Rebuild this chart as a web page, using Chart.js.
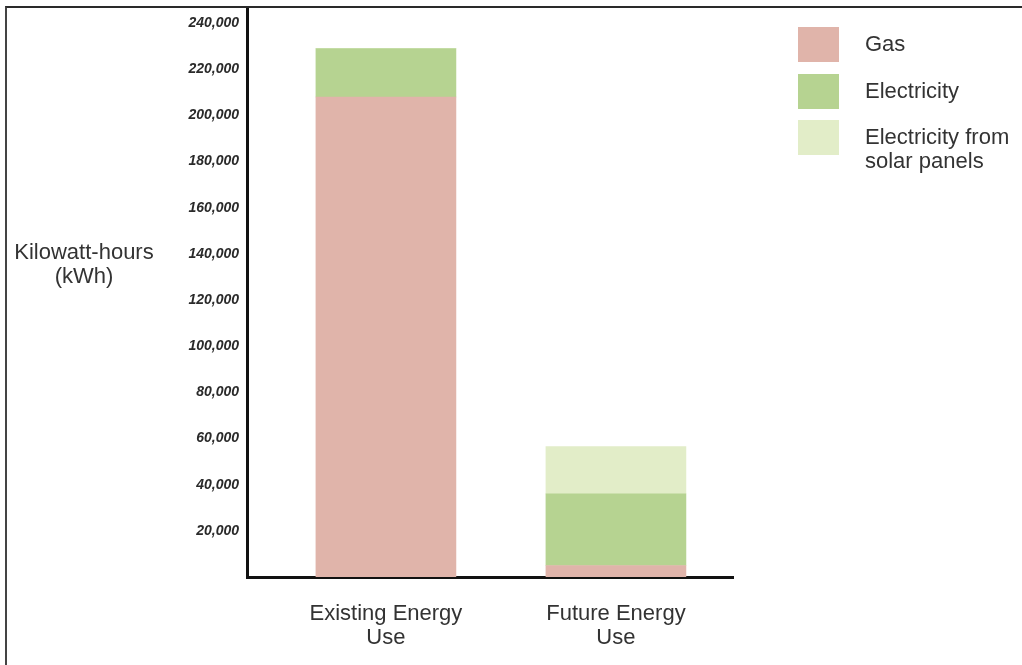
<!DOCTYPE html>
<html>
<head>
<meta charset="utf-8">
<script src="https://cdn.jsdelivr.net/npm/chart.js@4/dist/chart.umd.min.js"></script>
<style>
  body { margin: 0; background: #fff; }
  #wrap { position: relative; width: 1022px; height: 665px; overflow: hidden; font-family: "Liberation Sans", Arial, sans-serif; color: #333; }
  #frame { position: absolute; left: 5px; top: 6px; right: -10px; bottom: -10px; border-top: 2px solid #2a2a2a; border-left: 2px solid #444; }
  #chart { position: absolute; left: 0; top: 0; }
  #ytitle { position: absolute; left: 0; top: 240px; width: 168px; text-align: center; font-size: 22px; line-height: 24px; }
  #legend { position: absolute; left: 798px; top: 27px; }
  .item { position: absolute; left: 0; width: 220px; }
  .box { position: absolute; left: 0; top: 0; width: 41px; height: 35px; }
  .lbl { position: absolute; left: 67px; top: 5px; font-size: 22px; line-height: 24px; white-space: nowrap; }
</style>
</head>
<body>
<div id="wrap">
  <canvas id="chart" width="1022" height="665"></canvas>
  <div id="frame"></div>
  <div id="ytitle">Kilowatt-hours<br>(kWh)</div>
  <div id="legend"></div>
</div>
<script>
const categories = [["Existing Energy", "Use"], ["Future Energy", "Use"]];
const seriesNames = ["Gas", "Electricity", "Electricity from\nsolar panels"];
const seriesColors = ["#e0b4aa", "#b6d391", "#e2edc8"];
const gas = [208000, 5000];
const electricity = [21000, 31000];
const solar = [0, 20500];
const yTicks = [20000, 40000, 60000, 80000, 100000, 120000, 140000, 160000, 180000, 200000, 220000, 240000];

function $(id) {
  return document.getElementById(id);
}

const toPoints = (arr) => arr.map((v, i) => ({ x: i + 1, y: v }));

const datasets = [gas, electricity, solar].map((vals, i) => ({
  label: seriesNames[i],
  data: toPoints(vals),
  backgroundColor: seriesColors[i],
  borderWidth: 0,
  barThickness: 140,
}));

// legend in html so the solar label can wrap on two lines
const legend = $("legend");
datasets.forEach((d, i) => {
  const it = document.createElement("div");
  it.className = "item";
  it.style.top = `${i * 46.5}px`;
  it.innerHTML = `<div class="box" style="background:${d.backgroundColor}"></div><div class="lbl">${d.label.replace("\n", "<br>")}</div>`;
  legend.appendChild(it);
});

new Chart($("chart"), {
  type: "bar",
  data: { datasets },
  options: {
    responsive: false,
    animation: false,
    layout: { padding: { left: 0, top: 7, right: 289, bottom: 0 } },
    plugins: { legend: { display: false }, tooltip: { enabled: false } },
    scales: {
      x: {
        type: "linear",
        stacked: true,
        offset: false,
        min: 0.396,
        max: 2.509,
        afterBuildTicks: (s) => {
          s.ticks = categories.map((c, i) => ({ value: i + 1 }));
        },
        afterFit: (s) => {
          s.height = 88;
          s.paddingLeft = 0;
          s.paddingRight = 0;
        },
        grid: { display: false, drawTicks: false, offset: false },
        border: { display: true, color: "#111", width: 3 },
        ticks: {
          autoSkip: false,
          maxRotation: 0,
          padding: 25,
          color: "#333",
          font: { family: "Liberation Sans", size: 22, lineHeight: 1.1 },
          callback: (v) => categories[v - 1] || "",
        },
      },
      y: {
        stacked: true,
        min: 0,
        max: 247000,
        afterBuildTicks: (s) => {
          s.ticks = yTicks.map((v) => ({ value: v }));
        },
        afterFit: (s) => {
          s.width = 247;
          s.paddingTop = 0;
          s.paddingBottom = 0;
        },
        grid: { display: false, drawTicks: false },
        border: { display: true, color: "#111", width: 3 },
        ticks: {
          padding: 8,
          color: "#2a2a2a",
          font: { family: "Liberation Sans", size: 14, style: "italic", weight: "bold" },
          callback: (v) => v.toLocaleString("en-US"),
        },
      },
    },
  },
});
</script>
</body>
</html>
